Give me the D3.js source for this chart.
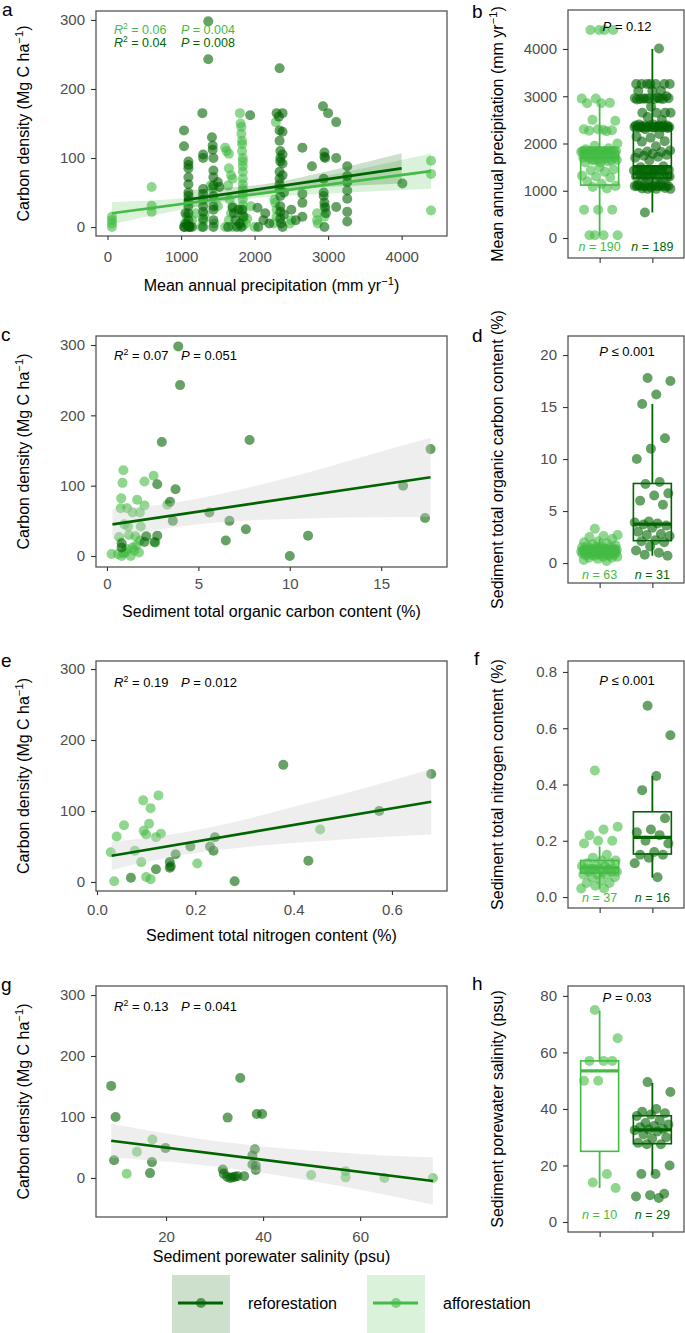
<!DOCTYPE html>
<html><head><meta charset="utf-8">
<script src="https://cdn.jsdelivr.net/npm/d3@7/dist/d3.min.js"></script>
<style>body{margin:0;background:#fff} text{font-family:"Liberation Sans",Arial,Helvetica,sans-serif}</style>
</head><body><svg id="chart" width="685" height="1333"></svg>
<script>
// ---------------- DATA ----------------
const groupNames = ["afforestation", "reforestation"];
// Panel a: [precipitation mm/yr, carbon density Mg C/ha]
const aRef = [[1040,140],[1040,117],[1040,0],[1050,0],[1060,20],[1070,5],
 [1100,95],[1100,90],[1100,85],[1100,72],[1100,62],[1100,50],[1100,45],[1100,38],[1100,30],[1100,20],[1100,10],[1100,2],[1110,0],[1120,0],[1150,0],
 [1290,165],[1300,105],[1300,100],[1300,55],[1300,48],[1300,40],[1300,30],[1300,22],[1300,12],[1300,0],
 [1370,298],[1370,243],
 [1420,130],[1430,118],[1430,112],[1440,100],[1440,82],[1440,72],[1440,60],[1440,45],[1440,30],[1440,25],[1440,10],[1440,0],
 [1500,65],[1520,58],[1640,0],
 [1700,28],[1720,20],[1740,10],[1760,0],[1780,25],[1800,5],[1820,0],[1830,25],[1850,15],
 [1940,162],
 [2040,28],[2050,0],[2120,10],[2145,20],[2200,5],
 [2300,165],[2330,160],[2340,230],[2340,140],[2340,125],[2350,110],[2350,100],[2350,95],[2340,80],[2340,70],[2340,62],[2340,55],[2350,45],[2350,30],[2350,22],[2350,12],[2360,5],[2380,0],[2380,165],[2380,138],[2380,105],[2380,92],[2380,75],[2400,50],[2400,18],
 [2500,25],[2560,10],[2650,115],[2650,48],[2650,35],[2650,15],
 [2780,88],
 [2930,175],[2950,108],[2950,102],[2960,100],[2940,70],[2940,50],[2940,45],[2950,35],[2960,28],[2970,20],[2950,0],
 [3000,165],[3110,152],[3110,100],[3110,29],
 [3260,88],[3260,74],[3260,65],[3260,53],[3260,41],[3260,22],[3260,8],
 [4010,63]];
const aAff = [[60,0],[60,5],[60,10],[60,15],
 [600,58],[600,31],[600,22],
 [1050,5],[1080,15],[1100,0],[1150,10],[1200,20],
 [1280,0],[1300,8],[1320,18],
 [1400,60],[1430,56],[1450,5],[1500,30],
 [1600,115],[1620,110],[1650,106],[1650,85],[1680,75],[1700,70],[1640,60],[1660,40],[1700,30],[1680,20],[1650,10],[1700,0],[1600,0],
 [1800,165],[1810,150],[1820,145],[1820,135],[1830,125],[1830,120],[1830,110],[1840,100],[1840,95],[1840,88],[1840,80],[1840,70],[1840,62],[1840,55],[1840,48],[1840,40],[1840,32],[1840,25],[1840,18],[1840,10],[1840,2],[1880,5],[1900,12],
 [1950,30],[2000,0],
 [2290,152],[2270,40],[2280,35],[2300,25],[2300,15],[2260,5],
 [2500,10],[2480,5],
 [2850,20],[2850,10],[2860,5],
 [2950,30],[2950,15],
 [4400,96],[4400,77],[4400,24]];
const aFitAffLine = [[60,20],[4400,81]];
const aFitAffBand = [[60,4,36],[1000,25,41.5],[1700,38,48],[2000,41.6,53],[3000,48.4,74.4],[4400,55.6,106.6]];
const aFitRefLine = [[1040,39],[4000,85]];
const aFitRefBand = [[1040,25,53],[1600,38.4,57],[2200,51,63],[2800,57,76],[3400,60,91],[4000,63,107]];

// Panel c: [TOC %, carbon density]
const cRef = [[3.9,298],[4.0,243],[3.0,162],[7.8,165],[2.75,102],[3.75,95],[3.45,77],[3.6,50],[5.6,62],[6.7,50],[6.5,22],[7.6,38],[10.0,0],[11.0,29],[16.2,100],[17.7,152],[17.4,54],[2.75,29],[2.15,28],[2.05,20],[0.8,18],[0.8,12],[2.6,20]];
const cAff = [[0.9,122],[0.85,104],[0.78,82],[0.75,68],[1.1,68],[1.4,62],[1.65,80],[1.8,62],[2.05,106],[2.55,114],[2.05,72],[0.95,45],[1.15,42],[1.55,28],[1.85,42],[0.67,27],[1.2,30],[0.25,3],[0.6,3],[0.8,0],[1.0,5],[1.3,0],[1.5,8],[1.75,5],[1.6,15],[1.1,10],[2.65,19],[3.3,73],[0.9,4],[1.4,12],[1.8,22]];
const cFitLine = [[0.3,45],[17.7,112]];
const cFitBand = [[0.3,24,66],[2,34,70],[4,42,77],[6,47.5,87],[8,51,99],[10,52.5,112],[12,54,126],[14,55,141],[16,55.5,156],[17.7,56,168]];

// Panel e: [TN %, carbon density]
const eRef = [[0.379,165],[0.574,100],[0.68,152],[0.43,30],[0.28,1],[0.24,63],[0.237,44],[0.23,50],[0.19,50],[0.16,39],[0.148,28],[0.148,20],[0.15,22],[0.12,18],[0.069,6]];
const eAff = [[0.125,122],[0.094,115],[0.109,104],[0.106,82],[0.095,72],[0.10,67],[0.13,68],[0.12,63],[0.055,80],[0.04,64],[0.028,42],[0.077,44],[0.09,28],[0.204,26],[0.454,74],[0.035,1],[0.1,7],[0.109,4]];
const eFitLine = [[0.03,37],[0.68,113]];
const eFitBand = [[0.03,17,57],[0.1,28,62],[0.2,41,73],[0.3,49,88],[0.4,55,106],[0.5,60,124],[0.6,64,143],[0.68,67,159]];

// Panel g: [salinity psu, carbon density]
const gRef = [[8.7,151],[9.6,100],[9.3,29],[35.3,164],[32.7,99],[38.7,105],[39.8,105],[19.9,49],[17.1,26],[16.7,8],[38.3,47],[37.8,37],[38.5,20],[37.8,22],[38.5,13],[31.7,14],[31.9,7],[32.6,2],[33.7,1],[34.7,3],[36.1,3],[33.2,0],[34.2,2]];
const gAff = [[17.2,63],[14.0,43],[11.9,7],[49.9,5],[57.0,11],[57.0,1],[65.0,0],[75,0]];
const gFitLine = [[8.7,61],[75,-5]];
const gFitBand = [[8.7,33,89],[15,30,80],[25,23.5,66.5],[35,14,56],[45,2,48],[55,-12,42],[65,-27,37],[75,-44,34]];

// Box panels: values and [lower whisker, Q1, median, Q3, upper whisker]
const bAff = aAff.map(d => d[0]).concat([4400]);
const bRef = aRef.map(d => d[0]).concat([540]);
const bStatAff = [50,1120,1700,1830,2850];
const bStatRef = [540,1270,1510,2370,4000];

const dAff = [3.3,2.7,2.6,2.5,2.3,2.1,2.0,1.9,1.8,1.7,1.6,1.6,1.5,1.5,1.5,1.4,1.4,1.4,1.4,1.3,1.3,1.3,1.3,1.3,1.25,1.2,1.2,1.2,1.2,1.2,1.2,1.2,1.15,1.15,1.1,1.1,1.1,1.1,1.1,1.05,1.05,1.0,1.0,1.0,1.0,0.95,0.9,0.9,0.9,0.85,0.8,0.8,0.8,0.75,0.7,0.7,0.6,0.6,0.5,0.5,0.4,0.3,0.2];
const dRef = [17.8,17.5,16.2,15.3,12.0,11.0,10.0,7.8,7.6,6.7,6.5,6.0,5.6,4.0,3.9,3.8,3.7,3.6,3.4,3.0,2.8,2.7,2.6,2.2,2.1,2.0,1.6,1.2,1.0,0.8,0.7];
const dStatAff = [0.4,0.95,1.2,1.5,2.3];
const dStatRef = [0.7,2.15,3.75,7.65,15.3];

const fAff = [0.45,0.25,0.24,0.22,0.2,0.2,0.19,0.15,0.14,0.13,0.13,0.12,0.12,0.11,0.11,0.11,0.1,0.1,0.1,0.1,0.1,0.1,0.09,0.09,0.09,0.09,0.08,0.08,0.08,0.07,0.07,0.06,0.05,0.05,0.04,0.03,0.03];
const fRef = [0.68,0.575,0.43,0.38,0.28,0.24,0.23,0.22,0.2,0.19,0.16,0.15,0.15,0.14,0.12,0.07];
const fStatAff = [0.03,0.085,0.105,0.13,0.18];
const fStatRef = [0.069,0.153,0.212,0.303,0.43];

const hAff = [75,65,57,57,57,50,50,17,14,12];
const hRef = [49.5,46,40,39,38.5,38,37.5,36,35,34.5,34,33.5,33,32.7,32.5,32,31,30,29.5,28,27.5,27.5,20,17,17,10,9.5,9,8.5];
const hStatAff = [12,25,53.5,57,74.8];
const hStatRef = [16.7,27.7,32.6,37.6,49.2];

// ---------------- DRAWING ----------------
const svg = d3.select("#chart");
const REF = "#006400", AFF = "#44bb44";
const PT_OP = 0.6, R = 5;

function addSup(t, before, sup, after, size) {
  t.append("tspan").text(before);
  t.append("tspan").attr("font-size", size * 0.7).attr("dy", -size * 0.4).text(sup);
  t.append("tspan").attr("dy", size * 0.4).text(after);
}
function statLine(x, y, r2, p, color, size) {
  const t = svg.append("text").attr("x", x).attr("y", y).attr("font-size", size).attr("fill", color);
  t.append("tspan").attr("font-style", "italic").text("R");
  t.append("tspan").attr("font-size", size * 0.68).attr("dy", -size * 0.38).text("2");
  t.append("tspan").attr("dy", size * 0.38).text(" = " + r2);
  t.append("tspan").attr("x", x + 67).attr("font-style", "italic").text("P");
  t.append("tspan").text(" = " + p);
}
function panelLetter(x, y, s) {
  svg.append("text").attr("x", x).attr("y", y).attr("font-size", 19).attr("fill", "#000").text(s);
}
function styleAxis(ax) {
  ax.select(".domain").remove();
  ax.selectAll("line").attr("stroke", "#333").attr("stroke-width", 1.1);
  ax.selectAll("text").attr("font-size", 15).attr("fill", "#4d4d4d").attr("font-family", null);
}

function scatter(cfg) {
  const x = d3.scaleLinear().domain(cfg.xDom).range([96, 447]);
  const y = d3.scaleLinear().domain(cfg.yDom).range([cfg.y1, cfg.y0]);
  const clipId = "clip" + cfg.id;
  svg.append("clipPath").attr("id", clipId).append("rect")
    .attr("x", 96).attr("y", cfg.y0).attr("width", 351).attr("height", cfg.y1 - cfg.y0);
  const plot = svg.append("g").attr("clip-path", `url(#${clipId})`);
  cfg.series.forEach(s => {
    plot.append("g").selectAll("circle").data(s.data).join("circle")
      .attr("cx", d => x(d[0])).attr("cy", d => y(d[1])).attr("r", R)
      .attr("fill", s.color).attr("fill-opacity", PT_OP);
  });
  const area = d3.area().x(d => x(d[0])).y0(d => y(d[1])).y1(d => y(d[2])).curve(d3.curveMonotoneX);
  const line = d3.line().x(d => x(d[0])).y(d => y(d[1]));
  cfg.fits.forEach(f => plot.append("path").datum(f.band).attr("d", area).attr("fill", f.fill).attr("fill-opacity", f.fillOp));
  cfg.fits.forEach(f => plot.append("path").datum(f.line).attr("d", line).attr("fill", "none").attr("stroke", f.color).attr("stroke-width", 2.7));
  svg.append("rect").attr("x", 96).attr("y", cfg.y0).attr("width", 351).attr("height", cfg.y1 - cfg.y0)
    .attr("fill", "none").attr("stroke", "#555").attr("stroke-width", 1.3);
  const ya = svg.append("g").attr("transform", "translate(96,0)")
    .call(d3.axisLeft(y).tickValues([0, 100, 200, 300]).tickFormat(d3.format("d")).tickSize(5).tickPadding(6));
  styleAxis(ya);
  const xa = svg.append("g").attr("transform", `translate(0,${cfg.y1})`)
    .call(d3.axisBottom(x).tickValues(cfg.xTicks).tickFormat(cfg.xFmt).tickSize(4).tickPadding(cfg.xPad));
  styleAxis(xa);
  const yt = svg.append("text").attr("transform", `translate(29,${(cfg.y0 + cfg.y1) / 2}) rotate(-90)`)
    .attr("text-anchor", "middle").attr("font-size", 16).attr("fill", "#000");
  addSup(yt, "Carbon density (Mg C ha", "\u22121", ")", 16);
  const xt = svg.append("text").attr("x", 271.5).attr("y", cfg.titleY).attr("text-anchor", "middle").attr("font-size", 16).attr("fill", "#000");
  if (cfg.xTitleSup) addSup(xt, cfg.xTitle, cfg.xTitleSup, ")", 16); else xt.text(cfg.xTitle);
}

function jitter(i) { return (((i * 0.6180339887 + 0.37) % 1) - 0.5) * 0.7; }

function boxPanel(cfg) {
  const x = d3.scaleLinear().domain([0.4, 2.6]).range([568, 684]);
  const y = d3.scaleLinear().domain(cfg.yDom).range([cfg.y1, cfg.y0]);
  const sets = [
    {pos: 1, vals: cfg.aff, stat: cfg.affStat, color: AFF, n: cfg.nAff},
    {pos: 2, vals: cfg.ref, stat: cfg.refStat, color: REF, n: cfg.nRef}
  ];
  const clipId = "clip" + cfg.id;
  svg.append("clipPath").attr("id", clipId).append("rect")
    .attr("x", 568).attr("y", cfg.y0).attr("width", 116).attr("height", cfg.y1 - cfg.y0);
  const plot = svg.append("g").attr("clip-path", `url(#${clipId})`);
  sets.forEach(s => {
    plot.append("g").selectAll("circle").data(s.vals).join("circle")
      .attr("cx", (d, i) => x(s.pos + jitter(i))).attr("cy", d => y(d)).attr("r", R)
      .attr("fill", s.color).attr("fill-opacity", PT_OP);
  });
  sets.forEach(s => {
    const [lo, q1, med, q3, hi] = s.stat;
    const g = plot.append("g").attr("stroke", s.color).attr("fill", "none");
    g.append("line").attr("x1", x(s.pos)).attr("x2", x(s.pos)).attr("y1", y(q3)).attr("y2", y(hi)).attr("stroke-width", 1.8);
    g.append("line").attr("x1", x(s.pos)).attr("x2", x(s.pos)).attr("y1", y(q1)).attr("y2", y(lo)).attr("stroke-width", 1.8);
    g.append("rect").attr("x", x(s.pos - 0.36)).attr("width", x(s.pos + 0.36) - x(s.pos - 0.36))
      .attr("y", y(q3)).attr("height", Math.max(0.5, y(q1) - y(q3))).attr("stroke-width", 1.6);
    g.append("line").attr("x1", x(s.pos - 0.36)).attr("x2", x(s.pos + 0.36)).attr("y1", y(med)).attr("y2", y(med)).attr("stroke-width", 3.2);
    svg.append("text").attr("x", x(s.pos)).attr("y", y(cfg.nY) + 4.5).attr("text-anchor", "middle")
      .attr("font-size", 12.5).attr("fill", s.color)
      .call(t => { t.append("tspan").attr("font-style", "italic").text("n"); t.append("tspan").text(" = " + s.n); });
  });
  svg.append("rect").attr("x", 568).attr("y", cfg.y0).attr("width", 116).attr("height", cfg.y1 - cfg.y0)
    .attr("fill", "none").attr("stroke", "#555").attr("stroke-width", 1.3);
  const ya = svg.append("g").attr("transform", "translate(568,0)")
    .call(d3.axisLeft(y).tickValues(cfg.yTicks).tickFormat(cfg.yFmt).tickSize(5).tickPadding(6));
  styleAxis(ya);
  const xa = svg.append("g").attr("transform", `translate(0,${cfg.y1})`)
    .call(d3.axisBottom(x).tickValues([1, 2]).tickFormat("").tickSize(5));
  styleAxis(xa);
  const pt = svg.append("text").attr("x", 627).attr("y", y(cfg.pY) + 4.5).attr("text-anchor", "middle").attr("font-size", 13).attr("fill", "#000");
  pt.append("tspan").attr("font-style", "italic").text("P");
  pt.append("tspan").text(cfg.pText);
  const yt = svg.append("text").attr("transform", `translate(503,${(cfg.y0 + cfg.y1) / 2}) rotate(-90)`)
    .attr("text-anchor", "middle").attr("font-size", 16).attr("fill", "#000");
  if (cfg.titleSup) addSup(yt, cfg.title, cfg.titleSup, ")", 16); else yt.text(cfg.title);
}

// ---- scatter panels ----
scatter({id: "a", y0: 11, y1: 236, xDom: [-157, 4617], yDom: [-13, 313], xTicks: [0, 1000, 2000, 3000, 4000], xFmt: d3.format("d"), xPad: 11,
  series: [{data: aAff, color: AFF}, {data: aRef, color: REF}],
  fits: [{line: aFitAffLine, band: aFitAffBand, color: AFF, fill: AFF, fillOp: 0.2},
         {line: aFitRefLine, band: aFitRefBand, color: REF, fill: REF, fillOp: 0.2}],
  xTitle: "Mean annual precipitation (mm yr", xTitleSup: "\u22121", titleY: 291});
scatter({id: "c", y0: 336, y1: 567, xDom: [-0.6, 18.6], yDom: [-15.6, 312.8], xTicks: [0, 5, 10, 15], xFmt: d3.format("d"), xPad: 7,
  series: [{data: cAff, color: AFF}, {data: cRef, color: REF}],
  fits: [{line: cFitLine, band: cFitBand, color: REF, fill: "#cfcfcf", fillOp: 0.35}],
  xTitle: "Sediment total organic carbon content (%)", titleY: 617});
scatter({id: "e", y0: 661, y1: 891, xDom: [-0.002, 0.712], yDom: [-12.7, 311.3], xTicks: [0, 0.2, 0.4, 0.6], xFmt: d3.format(".1f"), xPad: 9,
  series: [{data: eAff, color: AFF}, {data: eRef, color: REF}],
  fits: [{line: eFitLine, band: eFitBand, color: REF, fill: "#cfcfcf", fillOp: 0.35}],
  xTitle: "Sediment total nitrogen content (%)", titleY: 941});
scatter({id: "g", y0: 986, y1: 1217, xDom: [5.57, 77.9], yDom: [-64, 314.8], xTicks: [20, 40, 60], xFmt: d3.format("d"), xPad: 10,
  series: [{data: gAff, color: AFF}, {data: gRef, color: REF}],
  fits: [{line: gFitLine, band: gFitBand, color: REF, fill: "#cfcfcf", fillOp: 0.35}],
  xTitle: "Sediment porewater salinity (psu)", titleY: 1262});

statLine(114, 34, "0.06", "0.004", AFF, 12.5);
statLine(114, 47, "0.04", "0.008", REF, 12.5);
statLine(114, 360, "0.07", "0.051", "#000", 13);
statLine(114, 687, "0.19", "0.012", "#000", 13);
statLine(114, 1011, "0.13", "0.041", "#000", 13);

// ---- box panels ----
boxPanel({id: "b", y0: 10, y1: 258, yDom: [-423, 4825], yTicks: [0, 1000, 2000, 3000, 4000], yFmt: d3.format("d"),
  aff: bAff, ref: bRef, affStat: bStatAff, refStat: bStatRef, nAff: 190, nRef: 189, nY: -190, pY: 4466, pText: " = 0.12",
  title: "Mean annual precipitation (mm yr", titleSup: "\u22121"});
boxPanel({id: "d", y0: 336, y1: 583, yDom: [-1.92, 21.83], yTicks: [0, 5, 10, 15, 20], yFmt: d3.format("d"),
  aff: dAff, ref: dRef, affStat: dStatAff, refStat: dStatRef, nAff: 63, nRef: 31, nY: -1.15, pY: 20.3, pText: " \u2264 0.001",
  title: "Sediment total organic carbon content (%)"});
boxPanel({id: "f", y0: 661, y1: 908, yDom: [-0.039, 0.839], yTicks: [0, 0.2, 0.4, 0.6, 0.8], yFmt: d3.format(".1f"),
  aff: fAff, ref: fRef, affStat: fStatAff, refStat: fStatRef, nAff: 37, nRef: 16, nY: -0.003, pY: 0.768, pText: " \u2264 0.001",
  title: "Sediment total nitrogen content (%)"});
boxPanel({id: "h", y0: 986, y1: 1232, yDom: [-3.54, 83.5], yTicks: [0, 20, 40, 60, 80], yFmt: d3.format("d"),
  aff: hAff, ref: hRef, affStat: hStatAff, refStat: hStatRef, nAff: 10, nRef: 29, nY: 2.8, pY: 79.6, pText: " = 0.03",
  title: "Sediment porewater salinity (psu)"});

// ---- panel letters ----
panelLetter(2, 16, "a"); panelLetter(472, 18, "b");
panelLetter(1, 341, "c"); panelLetter(472, 342, "d");
panelLetter(1, 667, "e"); panelLetter(474, 665, "f");
panelLetter(1, 991, "g"); panelLetter(472, 990, "h");

// ---- legend ----
const legendItems = [{name: "reforestation", color: REF, x: 172}, {name: "afforestation", color: AFF, x: 367}];
legendItems.forEach(it => {
  svg.append("rect").attr("x", it.x).attr("y", 1275).attr("width", 58).attr("height", 58).attr("fill", it.color).attr("fill-opacity", 0.2);
  svg.append("line").attr("x1", it.x + 6).attr("x2", it.x + 51).attr("y1", 1303).attr("y2", 1303).attr("stroke", it.color).attr("stroke-width", 3);
  svg.append("circle").attr("cx", it.x + 29).attr("cy", 1303).attr("r", R).attr("fill", it.color).attr("fill-opacity", PT_OP);
  svg.append("text").attr("x", it.x + 76).attr("y", 1309).attr("font-size", 16).attr("fill", "#000").text(it.name);
});
</script></body></html>
